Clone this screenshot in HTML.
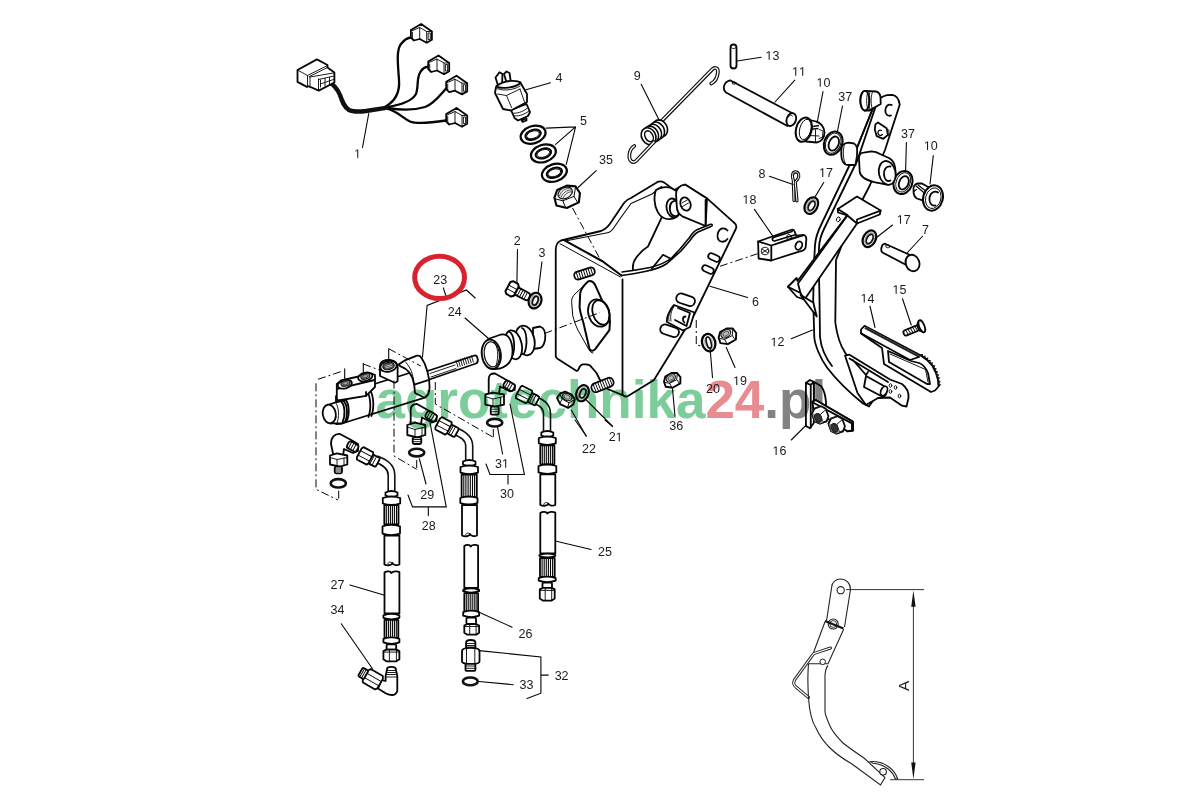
<!DOCTYPE html>
<html><head><meta charset="utf-8">
<style>
html,body{margin:0;padding:0;background:#fff;}
svg{display:block;}
.l{fill:none;stroke:#050505;stroke-width:1.8;stroke-linejoin:round;stroke-linecap:round;}
.w{fill:#fff;stroke:#050505;stroke-width:1.8;stroke-linejoin:round;stroke-linecap:round;}
.t{fill:none;stroke:#050505;stroke-width:1.1;stroke-linecap:round;}
.th{fill:none;stroke:#050505;stroke-width:0.9;stroke-linecap:round;stroke-linejoin:round;}
.d{fill:none;stroke:#050505;stroke-width:1;stroke-dasharray:8 3 2 3;}
#labels text{font-family:"Liberation Sans",sans-serif;font-size:12.5px;fill:#1a1a1a;text-anchor:middle;}
.wm{font-family:"Liberation Sans",sans-serif;font-weight:bold;font-size:53px;text-anchor:start;}
</style></head>
<body>
<svg width="1200" height="800" viewBox="0 0 1200 800">
<rect width="1200" height="800" fill="#fff"/>
<g id="parts">
<path style="stroke-width:2.3" class="l" d="M384.5,107.2 C396,101 400,92 399,80 C398,65 396,50 401,44 C404,40 407,38 410.5,37.5"/>
<path style="stroke-width:2.3" class="l" d="M386,107.2 C402,105 412,101 416,94 C419,86 416,77 421,71 C423,68 426,67 428,66.7"/>
<path style="stroke-width:2.3" class="l" d="M387.5,108 C400,110 415,110 425,107 C434,104 440,95 446.5,88"/>
<path style="stroke-width:2.3" class="l" d="M387.5,108.7 C398,112 403,118 410,121.5 C416,124 430,123 446,120.5"/>
<path fill="none" stroke="#111" stroke-width="4.4" stroke-linecap="round" d="M328,81.5 C333,84 337,88 340,95 C342,101 344,107 349,110 C353,112 360,111.7 366,111 L386,107.8"/>
<path class="w" d="M421.2,24.0 L410.9,30.0 L410.9,37.5 L413.9,40.5 L419.7,39.0 L426.7,42.7 L431.9,39.7 L431.9,31.5 Z"/><path class="th" d="M411.7,31.0 L419.7,27.5 L419.7,39.0"/><path class="th" d="M419.7,27.5 L426.7,31.5 L426.7,42.7"/><path class="th" d="M426.7,31.5 L431.9,31.5"/><rect class="th" x="428.5" y="33.0" width="1.8" height="6.5"/><path class="th" d="M412.4,32.5 L412.4,38.5"/>
<path class="w" d="M438.5,55.5 L428.2,61.5 L428.2,69.0 L431.2,72.0 L437.0,70.5 L444.0,74.2 L449.2,71.2 L449.2,63.0 Z"/><path class="th" d="M429.0,62.5 L437.0,59.0 L437.0,70.5"/><path class="th" d="M437.0,59.0 L444.0,63.0 L444.0,74.2"/><path class="th" d="M444.0,63.0 L449.2,63.0"/><rect class="th" x="445.8" y="64.5" width="1.8" height="6.5"/><path class="th" d="M429.7,64.0 L429.7,70.0"/>
<path class="w" d="M456.5,75.7 L446.2,81.7 L446.2,89.2 L449.2,92.2 L455.0,90.7 L462.0,94.4 L467.2,91.4 L467.2,83.2 Z"/><path class="th" d="M447.0,82.7 L455.0,79.2 L455.0,90.7"/><path class="th" d="M455.0,79.2 L462.0,83.2 L462.0,94.4"/><path class="th" d="M462.0,83.2 L467.2,83.2"/><rect class="th" x="463.8" y="84.7" width="1.8" height="6.5"/><path class="th" d="M447.7,84.2 L447.7,90.2"/>
<path class="w" d="M456.5,108.0 L446.2,114.0 L446.2,121.5 L449.2,124.5 L455.0,123.0 L462.0,126.7 L467.2,123.7 L467.2,115.5 Z"/><path class="th" d="M447.0,115.0 L455.0,111.5 L455.0,123.0"/><path class="th" d="M455.0,111.5 L462.0,115.5 L462.0,126.7"/><path class="th" d="M462.0,115.5 L467.2,115.5"/><rect class="th" x="463.8" y="117.0" width="1.8" height="6.5"/><path class="th" d="M447.7,116.5 L447.7,122.5"/>
<path class="w" d="M297.5,70 L316.9,59.4 L327.5,65 L327.5,67.5 L334.4,72.5 L334.4,82.5 L318.75,90.6 L308.75,86.25 L306.9,86.9 L297.5,81.9 Z"/>
<path class="th" d="M297.5,70 L307.5,75.5 L307.5,86.9 M307.5,75.5 L327.5,65.5 M309.4,76.5 L327.5,67.5 M310,77 L310,87.5 M310,77 L333.5,73 M318.5,79 L318.5,90 M318.5,79.5 L334,76"/>
<path class="th" d="M320.5,80 L320.5,87 M325,78.5 L325,86 M329.5,77.5 L329.5,84.5 M320.5,84 L333.5,79.5"/>
<g id="switch4">
<path class="w" d="M511,110 L514.5,118 L518,120.5 L528,116 L530,112 L526.5,104 Z"/>
<path class="th" d="M512.5,113 C516,114 523,112 527.5,108 M513.5,115.5 C517,117 524,115 529,111"/>
<path class="w" d="M521.5,120 L522.5,121.8 L526.5,120.5 L526.5,118.5 Z"/>
<path class="w" d="M495,93 L503,109 L511,110.5 L527,102 L527,94 L520,82 L504,84 L496,87 Z"/>
<path class="th" d="M496,88 C500,91 513,91 520,86 M497.5,94 L506.5,95.5 L520,89 M506.5,95.5 L511.5,107.5 M520,89 L524.5,102"/>
<path class="w" d="M495.5,77.5 L499.5,72.2 L502.5,74 L502,85 L498,85.5 Z"/>
<path class="w" d="M504,74 L506.5,71.5 L509.5,73 L511,83 L507,84 Z"/>
<path class="w" d="M496.5,86 C500,89.5 515,88 520.5,83 C518,80 505,79.5 496.5,86 Z"/>
</g>
<g id="washers5">
<g transform="translate(533.1,134.7) rotate(-18)"><ellipse style="stroke-width:2.2" class="w" rx="12.8" ry="8.6"/><ellipse style="stroke-width:2" class="l" rx="8" ry="4.8"/><ellipse class="th" rx="6.6" ry="3.6"/></g>
<g transform="translate(543.4,153.4) rotate(-18)"><ellipse style="stroke-width:2.2" class="w" rx="12.8" ry="8.6"/><ellipse style="stroke-width:2" class="l" rx="8" ry="4.8"/><ellipse class="th" rx="6.6" ry="3.6"/></g>
<g transform="translate(554.4,172.8) rotate(-18)"><ellipse style="stroke-width:2.2" class="w" rx="12.8" ry="8.6"/><ellipse style="stroke-width:2" class="l" rx="8" ry="4.8"/><ellipse class="th" rx="6.6" ry="3.6"/></g>
</g>
<g id="nut35">
<path style="stroke-width:2.1" class="w" d="M554.4,197.6 L557.2,190 L566.8,185.6 L575.6,186.4 L580,193.2 L578.8,202.4 L566.8,208 L556.4,205.6 Z"/>
<path style="stroke-width:1" class="th" d="M555.2,198.8 L562.8,200.8 L574,196.4 L575.6,186.8 M562.8,200.8 L565.6,207.6 M574,196.4 L577.6,202.4"/>
<ellipse cx="565.2" cy="193" rx="7.6" ry="5.3" transform="rotate(-28 565.2 193)" fill="#eee" stroke="#111" stroke-width="1.2"/>
<path d="M559.5,196 C561,191 565,188.5 569.5,188.2 M561,197.3 C563,192.5 567,190 571,190 M563,198 C565,194 568.5,191.5 572,191.8" fill="none" stroke="#444" stroke-width="0.9"/>
</g>

<g id="spring9">
<path fill="none" stroke="#111" stroke-width="3.8" stroke-linecap="round" d="M660.8,121.8 L712.3,69.3 C715,66.5 718.5,68 717.8,73 C717.2,78 714.5,82 711.3,83.5"/>
<path fill="none" stroke="#fff" stroke-width="1.4" stroke-linecap="round" d="M660.8,121.8 L712.3,69.3 C715,66.5 718.5,68 717.8,73 C717.2,78 714.5,82 711.3,83.5"/>
<ellipse style="stroke-width:1.6" class="w" cx="660.2" cy="128.3" rx="7" ry="8.8" transform="rotate(-28 660.2 128.3)"/>
<ellipse style="stroke-width:1.6" class="w" cx="657.2" cy="130.5" rx="7" ry="8.8" transform="rotate(-28 657.2 130.5)"/>
<ellipse style="stroke-width:1.6" class="w" cx="654.2" cy="132.7" rx="7" ry="8.8" transform="rotate(-28 654.2 132.7)"/>
<ellipse style="stroke-width:1.6" class="w" cx="651.2" cy="134.6" rx="7" ry="8.8" transform="rotate(-28 651.2 134.6)"/>
<ellipse style="stroke-width:1.6" class="w" cx="648.6" cy="136.2" rx="7" ry="8.8" transform="rotate(-28 648.6 136.2)"/>
<ellipse style="stroke-width:1.5" class="l" cx="649" cy="136.3" rx="3.8" ry="5.8" transform="rotate(-28 649 136.3)"/>
<path fill="none" stroke="#111" stroke-width="3.8" stroke-linecap="round" d="M654,142 L636.5,160.5 C633,164 628.5,161 629.5,154 C630,150 632,147.5 634.3,146"/>
<path fill="none" stroke="#fff" stroke-width="1.4" stroke-linecap="round" d="M654,142 L636.5,160.5 C633,164 628.5,161 629.5,154 C630,150 632,147.5 634.3,146"/>
</g>
<g id="pin13">
<rect class="w" x="730.5" y="44.5" width="6" height="24" rx="3"/>
<path class="th" d="M731,47.5 C732.5,49 735,49 736,47.5"/>
</g>
<g id="pin11">
<path class="w" d="M730,80.3 L792.5,113.3 L787.5,126 L726,92.5 C722.5,90 723,82 730,80.3 Z"/>
<ellipse class="w" cx="791.3" cy="119.6" rx="4.6" ry="6.6" transform="rotate(20 791.3 119.6)"/>
<path class="th" d="M788.5,117 C789,115 791,114.5 792.5,116"/>
<ellipse class="th" cx="734" cy="83" rx="2" ry="1.2"/>
</g>
<g id="bush10a">
<path class="w" d="M806,119 L816,121.5 C820.5,122.5 824.5,127 824.5,132.5 C824.5,138 821,142 816.5,142.5 L806,141.5 Z"/>
<path d="M807,127.5 L819,125.5 M808,129.5 L818.5,128.5" stroke="#111" stroke-width="1.4"/>
<path class="th" d="M809,135.5 L819,136 M815.5,130 L815.5,142 M819.5,129.5 L823,131 L822.5,137 L819,138.5"/>
<ellipse style="stroke-width:2" class="w" cx="803.8" cy="129.7" rx="7.8" ry="12.4" transform="rotate(15 803.8 129.7)"/>
<ellipse class="th" cx="805.3" cy="129.4" rx="5.6" ry="10.4" transform="rotate(15 805.3 129.4)"/>
</g>
<g id="washer37a">
<ellipse style="stroke-width:2" class="w" cx="833.2" cy="143.2" rx="9" ry="12" transform="rotate(22 833.2 143.2)"/>
<ellipse style="stroke-width:1.8" class="l" cx="833.8" cy="143.6" rx="4.8" ry="7.4" transform="rotate(22 833.8 143.6)"/>
<ellipse class="th" cx="833.2" cy="143.2" rx="7.4" ry="10.4" transform="rotate(22 833.2 143.2)"/>
</g>
<g id="washer37b">
<ellipse style="stroke-width:2" class="w" cx="903" cy="182.5" rx="9.3" ry="11.8" transform="rotate(20 903 182.5)"/>
<ellipse style="stroke-width:1.8" class="l" cx="903.8" cy="182.8" rx="4.6" ry="7" transform="rotate(22 903.8 182.8)"/>
<ellipse class="th" cx="903.2" cy="182.4" rx="7" ry="10" transform="rotate(22 903.2 182.4)"/>
</g>
<g id="bush10b">
<path class="w" d="M913.5,190 C913,186.5 915,184 918,183.5 L921.5,183.3 L930,188 L930,202 L924,200.8 L917,198.5 C914.5,197 913.3,194 913.5,190 Z"/>
<path style="stroke-width:1.1" class="th" d="M916,186 L925,193.5 M918,185 L927,192 M913.8,191.5 L916.5,189.5"/>
<ellipse style="stroke-width:2" class="w" cx="933" cy="198" rx="9.8" ry="12.8" transform="rotate(15 933 198)"/>
<ellipse class="th" cx="933.3" cy="198.2" rx="7.6" ry="10.5" transform="rotate(15 933.3 198.2)"/>
<path class="l" d="M938,192.5 C935,190.5 930.5,192 929.5,197.5 C928.8,202.5 931.5,206.5 935.5,205.5"/>
</g>

<g id="pedal12">
<path class="w" d="M873.8,106 L876.7,103.4 C879,98 883,96 887,95.2 L892.5,94.8 C896,95.5 899,99 899.7,104.7 L885,150 L870,185 C860,205 852,218 848,228 L840,250 L836,260 L835.3,322.5 C837,335 840,345 845,352.5 L875,397.5 L869,406.5 L863,403.5 C850,393 835,378 827,367.5 C820,358 815,345 814.3,337.5 L813.2,300 L814.3,258 L815,245 C815.5,238 818,231 821.5,224 L852.5,159 Z"/>
<path class="l" d="M876.7,103.4 L857.3,160.5 L824,229 C821,235 819.2,241 819,248 L818.7,258 L819.5,300 L820,337 C821,347 825,357 832,366"/>
<path class="l" d="M873.8,106 L852.5,159"/>
<path class="l" d="M891.8,105 C888.5,103.5 885.5,106 885.3,110.5 C885.2,114.5 888,116.5 891,115.5"/>
<path class="w" d="M875.4,124.4 L878,122.4 L886.6,128.3 L887.9,134.9 L883.3,138.8 L876.7,136.2 L874.8,129.6 Z"/>
<path class="th" d="M886.6,129 L888.8,130 L889,135 L887.9,135.5"/>
<path style="stroke-width:1.3" class="l" d="M881.5,130.5 C879,129.5 877.5,131.5 878,133.5 C878.5,135.5 881,136 882.5,134.5"/>
</g>
<g id="pin-lever-top">
<path class="w" d="M865,90.8 L876,91.5 C878.5,92 880,94 880.5,97 L880.7,104 L869,110.6 L865,110.6 C861,109 860,103 860.3,99 C860.6,94 862.5,91.5 865,90.8 Z"/>
<ellipse class="w" cx="865" cy="100.7" rx="4.5" ry="9.8"/>
<path class="th" d="M868.3,91.2 C866,95 866,106 868.3,110.3 M870.3,91.3 C868,95 868,106 870.3,110.2 M872.8,91.4 C870.5,95 870.5,106 872.8,110"/>
</g>
<g id="block">
<path class="w" d="M841.3,150 C841.3,145 845,142.7 849,142.7 L854,143.5 C857,144.5 857.5,150 857,156 L855.5,165 L848,165 C843.5,165 841.3,160 841.3,155 Z"/>
<path class="th" d="M845,143.5 C842.5,148 842.5,160 846,164.5"/>
<path class="w" d="M859,158.5 C859,155 861,152.6 863.6,152.6 L871.5,151.3 C875,151.3 878,152.5 880,154 L889.9,158.5 C893,160.5 895.5,165 895.5,172 C895.5,180 892,184.5 887,184.7 L874.1,182.1 C866,180 860,176 859.7,171.6 Z"/>
<ellipse class="w" cx="887.2" cy="172.9" rx="8.3" ry="12" transform="rotate(-12 887.2 172.9)"/>
<path class="l" d="M890.5,166.5 C886,165.5 883.5,170 884,175 C884.5,180 887.5,182 890.5,180.5"/>
</g>
<g id="bar">
<path class="w" d="M837.75,208.9 L857,196.6 L880.6,210.6 L879.75,214.5 L857,223.5 L804.5,299.5 L797,297 L787.9,286.75 L796.6,278 L797.5,281 L847.4,215 Z"/>
<path class="l" d="M837.75,208.9 L838,212.5 L847.4,215.5 L857,223.5 M857,223.5 L857,219.5 L880.6,210.6 M847.4,215.5 L798,283.5 L800.5,293 M787.9,286.75 L800.5,293 L804.5,299.5"/>
<path style="fill:#fff" class="l" d="M800.5,295 L813.25,302.5 L816.75,316.5 Z"/>
<ellipse class="th" cx="838.3" cy="219.4" rx="1.8" ry="2.5" transform="rotate(20 838.3 219.4)"/>
</g>
<g id="pad">
<path class="w" d="M845,355.5 L849.5,354.7 L890,379.5 L902,384 C906,387 909,392 908.5,398 L906.5,406.5 L902,405.7 L890,397.5 L878,398 L866,405 L857.5,393 Z"/>
<path class="l" d="M849.5,358.5 L888,382 M853,360 L866,375 L868,372"/>
<path class="w" d="M866,376 L884,386 C888,389 887,397 882,396.5 L864,387 Z"/>
<ellipse class="w" cx="884" cy="391" rx="3" ry="5" transform="rotate(25 884 391)"/>
<ellipse class="th" cx="890.5" cy="385.5" rx="1.3" ry="1.8"/>
<ellipse class="th" cx="895.5" cy="387.5" rx="1.3" ry="1.8"/>
<ellipse class="th" cx="890.5" cy="391.5" rx="1.3" ry="1.8"/>
<ellipse class="th" cx="899.5" cy="396" rx="1.3" ry="1.8"/>
</g>
<g id="rubber14">
<path class="w" d="M861,329.5 L864.5,325.8 L920,355 L927,360 L932.5,366 L936,373 L938,380 L938.5,386.5 L935,390.5 L931,392 L884,364 L882,348 L861,333.5 Z"/>
<path d="M920.0,355.0 L922.3,354.5 L922.6,356.9 L924.9,356.3 L925.2,358.7 L927.6,358.2 L927.7,360.7 L930.1,360.7 L929.8,363.1 L932.2,363.0 L932.0,365.4 L934.5,365.9 L933.6,368.2 L935.9,368.8 L935.0,371.0 L937.3,371.7 L936.3,374.0 L938.4,375.0 L937.2,377.0 L939.3,378.1 L938.0,380.1 L939.9,381.6 L938.3,383.3 L940.2,384.8 L938.5,386.5" fill="none" stroke="#111" stroke-width="1.2"/>
<path d="M865,327.6 L919.5,356.6" stroke="#222" stroke-width="2.6"/>
<path d="M866,327.2 L919,355.6" stroke="#777" stroke-width="0.8" stroke-dasharray="0.8 0.8"/>
<path class="l" d="M861.5,333.5 L910,360 L919,357"/>
<path class="l" d="M888,351 L911,361 L919,363 C923,364.5 926,368 928,373 L930,384 L927,384 L889,362 Z"/>
<path class="th" d="M890,354 L925.5,369.5 L928,382"/>
</g>
<g id="screw15">
<g transform="rotate(-22 912 330)">
<rect class="w" x="903" y="327.5" width="16" height="5.5" rx="2.2"/>
<path class="th" d="M906,327.5 l1,5.5 M908.5,327.5 l1,5.5 M911,327.5 l1,5.5 M913.5,327.5 l1,5.5 M916,327.5 l1,5.5"/>
<path class="w" d="M918.5,327.3 L922,324 L922,336.5 L918.5,333.2 Z"/>
<ellipse class="w" cx="922.5" cy="330.2" rx="2.6" ry="6.4"/>
</g>
</g>

<g id="bracket6">
<path class="w" d="M555.75,356 L555.75,250 C555.75,245 557,242 561,240.5 L601,231 C605,229.5 608,226.5 610,223.75 L624,203 C626,200 628,199 631,198 L657.5,181.9 C660,180.8 662,181.2 664,182.4 L674,190 L685,184.6 L707,198.4 L733.2,221.8 C736,224 737,226 736,228.5 L694.5,314 L654,380 L628,396 C626,397 624.5,396.5 623.5,395.5 L607,388.75 L599.5,379 L596.5,373 L592,367.75 C591,366 589,364.6 586,364.4 L583,364.4 C582,364.4 581,365 580,366.25 L578.5,369.25 C578.3,370 577.5,371 576.25,370.75 L557.5,358.75 C556.5,358.3 556,357.5 555.75,356 Z"/>
<path style="stroke-width:1.1" class="l" d="M565.2,241 L607.5,232.8 C610,232.3 612,230.5 614,227.5 L619.5,219.5 L631,203.5 L652,194 L661.6,186.5"/>
<path style="stroke-width:1" class="l" d="M560,243.7 L620.5,277"/>
<path style="stroke-width:2.1" class="l" d="M565,240.6 L602.5,261.25 L621.5,275.5"/>
<path style="stroke-width:1.6" class="l" d="M621.5,275.5 C628,274.5 638,273 645,271.5 C655,269.5 662,267 667,263.5 L681,251 L690,240.5 C693,236 695,233.5 698,232 L711,226.5 C713,225.5 712.5,224 710.5,224.2 L697.5,229.5 C694,231 692,233.5 689.5,237.5 L680,249 L672,257.5 C667,262 660,265 650,267.5 C640,269.5 630,271 622,272"/>
<path class="l" d="M622.5,279.5 L622.5,395"/>
<!-- cam arm inside -->
<path class="l" d="M661.6,217.6 L648,246.5 C642,250 638.25,254.8 636,258 C633,262 632.5,266 633,270"/>
<path class="l" d="M652,268.5 L663,254.8 L671.3,259"/>
<!-- tube -->
<path class="w" d="M656,190 C660,187 667,186.5 671,188 L678,192 L679.5,214 C676,219 670,220 665,218.5 C659,216.5 655,209 654.5,200 C654.5,195 655,192 656,190 Z"/>
<ellipse class="w" cx="673" cy="208" rx="6.4" ry="9.6" transform="rotate(-12 673 208)"/>
<path class="l" d="M677.5,201.5 C673,199.5 669.5,203 669.8,209 C670,214 673,217 677,216"/>
<!-- lug -->
<path class="w" d="M676,194 C676,189 680,185 685,184.6 L707,198.4 L705.6,226 L682.3,216.3 C678.5,214 676.8,210 676.8,206.6 Z"/>
<ellipse class="w" cx="685.5" cy="204" rx="5" ry="6.8" transform="rotate(-20 685.5 204)"/>
<path class="th" d="M682,203 L688,199.5 M682.5,206.5 L688.5,203"/>
<path class="l" d="M705.6,199.8 L705.6,225.9"/>
<!-- C hole -->
<path class="l" d="M727.5,230.5 C725,227.5 720.5,227.5 718.5,231.5 C716.5,235.5 717.5,240.5 721,241.5 C723.5,242.2 726,241 727.5,239"/>
<!-- slots -->
<g transform="rotate(25 714 257.5)"><rect class="w" x="708" y="254.5" width="12" height="6" rx="3"/></g>
<g transform="rotate(25 708 269.5)"><rect class="w" x="702" y="266.5" width="12" height="6" rx="3"/></g>
<g transform="rotate(18 685.5 300)"><rect class="w" x="676" y="295" width="19" height="9.5" rx="4.5"/></g>
<g transform="rotate(18 669.5 331)"><rect class="w" x="660" y="326" width="19" height="9.5" rx="4.5"/></g>
<!-- clip tab -->
<path class="w" d="M674,305 L694.5,312.5 L690,327 L683,330.5 L667,322 C666,318 670,309 674,305 Z"/>
<path class="l" d="M678,308 L690,313 L686.5,326 L675,320"/>
<path class="l" d="M685.5,316.5 C682.5,316.5 682,321 684.5,322.5"/>
<path class="th" d="M672,309 C669,313 668,317 669,321 M674,306.5 C671,311 670,316 671,321"/>
<!-- pad plate -->
<path style="stroke-width:1" class="l" d="M588.1,281.4 L573.8,295.2 C571.8,298 571.5,300 571.7,302.6 L572.7,315.3 C574,321 576,326 578,330.2 L588.7,349.3 C590,351.5 591.5,353 592.9,353"/>
<path style="stroke-width:2" class="w" d="M588.1,281.4 C590.5,280.5 593,281.5 595,284.6 L607.8,313.2 C609.5,317 610.2,320 609.9,323 L609.4,330.2 L595,349.3 C593,351.5 590.5,351 589.5,349 L583.4,322.8 C581,315 579.6,310 579.6,306.8 L580.2,293 C581,289 584,285 588.1,281.4 Z"/>
<ellipse class="w" cx="598.7" cy="313" rx="10.3" ry="14" transform="rotate(-18 598.7 313)"/>
<ellipse class="l" cx="601" cy="312.5" rx="8.3" ry="12.6" transform="rotate(-18 601 312.5)"/>
<!-- stud top -->
<g transform="rotate(-18 584.5 273.5)"><rect class="w" x="574" y="269.5" width="21" height="8" rx="3.5"/>
<path class="th" d="M577,269.5 v8 M579.5,269.5 v8 M582,269.5 v8 M584.5,269.5 v8 M587,269.5 v8 M589.5,269.5 v8 M592,269.5 v8"/></g>
<!-- stud bottom -->
<g transform="rotate(-22 602.5 385)"><rect class="w" x="591" y="380.5" width="23" height="9" rx="4"/>
<path class="th" d="M594,380.5 v9 M596.5,380.5 v9 M599,380.5 v9 M601.5,380.5 v9 M604,380.5 v9 M606.5,380.5 v9 M609,380.5 v9 M611.5,380.5 v9"/></g>
</g>

<g id="bolt2">
<g transform="translate(1.4,2.5) rotate(28 517 290)">
<rect class="w" x="512" y="285.5" width="17" height="8" rx="3"/>
<path class="th" d="M515,285.5 v8 M517.5,285.5 v8 M520,285.5 v8 M522.5,285.5 v8 M525,285.5 v8"/>
<path style="stroke-width:2" class="w" d="M505,284.5 L507,282.5 L512.5,282.5 L514.5,284.5 L514.5,295 L512.5,297 L507,297 L505,295 Z"/>
<path class="th" d="M505,288 L514.5,288 M505,292 L514.5,292"/>
</g>
</g>
<g id="washer3">
<ellipse style="stroke-width:2.2" class="w" cx="535" cy="300.6" rx="6.3" ry="8.0" transform="rotate(20 535 300.6)"/>
<ellipse cx="535" cy="300.6" rx="4.7" ry="6.4" transform="rotate(20 535 300.6)" fill="#a8a8a8" stroke="none"/>
<ellipse cx="535.3" cy="300.8" rx="2.5" ry="4.5" transform="rotate(20 535.3 300.8)" fill="#fff" stroke="#111" stroke-width="1.7"/>
</g>
<g id="boot24">
<path class="w" d="M533,328 L540,326.5 C545,328 546,333 545,340 C544,345 542,347.5 540,348 L533,349 Z"/>
<ellipse class="w" cx="525" cy="340.5" rx="9.5" ry="15" transform="rotate(-12 525 340.5)"/>
<path class="l" d="M522,328 C527,330 528,345 524,354"/>
<ellipse class="w" cx="513.5" cy="344.8" rx="8.2" ry="14.7" transform="rotate(-12 513.5 344.8)"/>
<path class="l" d="M509.5,332 C514,334 516,348 512,357"/>
<path class="w" d="M488,339 L501,334.5 C508,333 512,340 512.5,350 C513,360 508,366 500,368.5 L494,369 Z"/>
<ellipse class="w" cx="491.3" cy="354.3" rx="9.5" ry="14.8" transform="rotate(-8 491.3 354.3)"/>
<ellipse style="stroke-width:1.2" class="l" cx="491.8" cy="354.3" rx="7.6" ry="12.6" transform="rotate(-8 491.8 354.3)"/>
<path class="th" d="M494,342 C498,346 499,356 496,366"/>
</g>
<g id="mc23">
<path class="w" d="M426,371.5 L474.5,355.5 C478,355 479,362.5 476,363.5 L428,380 Z"/>
<path class="th" d="M456,360.5 l2,6.5 M458.2,359.8 l2,6.5 M460.4,359.1 l2,6.5 M462.6,358.4 l2,6.5 M464.8,357.7 l2,6.5 M467,357 l2,6.5 M469.2,356.3 l2,6.5 M471.4,355.6 l2,6.5"/>
<path class="th" d="M430,373.5 L455,365 M431,377 L456,368.5"/>
<path class="w" d="M336,396 L400,376 L425,368 L429,385 L428.2,394.2 C427,396.5 426,397.3 424.7,397.7 L342,423.5 L336,424 Z"/>
<path class="l" d="M365.5,390 C370,392.5 372,406.5 368.5,417 M368.5,389 C373,391.5 375,405.5 371.5,416"/>
<path class="w" d="M336.8,384 L341,380.5 L371.5,373.5 L375,375 L375,387 L366,395.8 L338.1,400.5 L336.8,398.7 Z"/>
<path class="l" d="M337.5,388.8 L374.5,380 M366,395.8 L366,392"/>
<path class="w" d="M380,366.2 C380,361 385,359.5 390,360 C395,361 397.6,363.5 397.6,367 L397.6,381 C396,383 394,383 393.2,382 L380,376 Z"/>
<ellipse class="w" cx="388.5" cy="366.3" rx="8.3" ry="5.4" transform="rotate(-12 388.5 366.3)"/>
<ellipse cx="388.5" cy="366" rx="5.8" ry="3.6" transform="rotate(-12 388.5 366)" fill="#555" stroke="#111" stroke-width="1.2"/>
<path d="M385,366.5 L392,364.5 M385.5,368 L392.5,366" stroke="#ddd" stroke-width="0.7"/>
<path class="w" d="M398.5,364.5 L405.5,360.1 L416.9,355.7 C419,355.5 420.5,356.2 421.2,357.5 L424.7,363.6 L427.4,371.5 L429.1,379.4 L429.6,388.1 L428.2,394.2 L424.7,397.7 L415,393 L414.2,384.6 C413,376 408,369 400.2,366.2 Z"/>
<path class="l" d="M414.2,384.6 L428.2,380.2"/>
<path class="th" d="M405.5,361.9 C409,366 411.5,370 412.5,375 L414.2,384.6"/>
<path class="w" d="M329,404.7 L336.7,402 L346,400 C349,404 350,415 346.5,421.5 L342,423.3 L330,423.3 Z"/>
<ellipse class="w" cx="329.3" cy="414" rx="6.5" ry="9.4" transform="rotate(-10 329.3 414)"/>
<path class="th" d="M336,403 C339,408 339.5,417 337,423"/>
<path class="l" d="M344,401.5 C347.5,405 348,416 345,422 M341.5,402 C345,405.5 345.5,416 342.5,422.5"/>
<ellipse class="w" cx="344.8" cy="384.3" rx="7.3" ry="4.1" transform="rotate(-15 344.8 384.3)"/>
<ellipse cx="345.5" cy="383.3" rx="4.6" ry="2.8" transform="rotate(-15 345.5 383.3)" fill="#999" stroke="#111" stroke-width="1.1"/><path d="M342.8,383.6 L344,381.9 L347,381.3 L348.3,382.8 L347,384.6 L344,385.2 Z" fill="none" stroke="#222" stroke-width="0.8"/>
<ellipse class="w" cx="365.3" cy="376.9" rx="7.3" ry="4.1" transform="rotate(-15 365.3 376.9)"/>
<ellipse cx="365.3" cy="376.3" rx="4.6" ry="2.8" transform="rotate(-15 365.3 376.3)" fill="#999" stroke="#111" stroke-width="1.1"/><path d="M362.6,376.6 L363.8,374.9 L366.8,374.3 L368.1,375.8 L366.8,377.6 L363.8,378.2 Z" fill="none" stroke="#222" stroke-width="0.8"/>
</g>
<g id="dash23">
<path class="d" d="M318,379.3 L342,371.3 M316,383.3 L316,489.3 L338,500 M338.7,490.7 L338.7,500"/>
<path class="d" d="M363.3,364 L379.3,370 M388.7,348.7 L420.7,366 M394,380.7 L394,456 L416.7,469.3 M416.7,460 L416.7,469.3"/>
<path class="d" d="M435.3,382 L435.3,404 L493.3,437.3 M493.3,429 L493.3,437.3"/>
<path class="t" d="M344.7,368.7 L344.7,379.3 M363.3,363.3 L363.3,374 M388.7,348.7 L388.7,363.3"/>
</g>
<g id="fitA">
<path class="w" d="M331,444 C331,437 335,433.5 340,434 L353,441 L358,444 L358,451 L353,453 L344,449 L343,456 L333.5,456 Z"/>
<g transform="rotate(28 353 447)"><rect class="w" x="347" y="443" width="11" height="7.5" rx="2.5"/><path class="th" d="M349.5,443 v7.5 M352,443 v7.5 M354.5,443 v7.5"/></g>
<path class="w" d="M330,455.5 L337,453.3 L347.3,455.5 L347.3,464.5 L340,466.7 L330,464.5 Z"/>
<path class="th" d="M330,457.5 L337,459.5 L347.3,457.5 M337,459.5 L337,466.7 M344,458 L344,465.5"/>
<rect class="w" x="334.7" y="466.7" width="7.3" height="6.6" rx="1.5"/>
<path class="th" d="M334.7,469 h7.3 M334.7,471 h7.3"/>
<ellipse cx="338.3" cy="483.3" rx="7.6" ry="4.2" fill="none" stroke="#111" stroke-width="2.6"/>
</g>
<g id="fitB">
<path class="w" d="M410.7,410 C410.7,406 413,404 417,404 L433,413 L436.5,416 L436.5,421 L432,422.5 L422,417.5 L421,424 L410.7,424 Z"/>
<g transform="rotate(30 431 416.5)"><rect class="w" x="425.5" y="412.5" width="11" height="7.5" rx="2.5"/><path class="th" d="M428,412.5 v7.5 M430.5,412.5 v7.5 M433,412.5 v7.5"/></g>
<path class="w" d="M407.3,425 L415,422.7 L425.3,425 L425.3,435 L417,437.3 L407.3,435 Z"/>
<path class="th" d="M407.3,427 L415,429.5 L425.3,427 M415,429.5 L415,437.3 M422,428 L422,436"/>
<rect class="w" x="412.7" y="437.3" width="8.6" height="6.7" rx="1.5"/>
<path class="th" d="M412.7,439.5 h8.6 M412.7,441.7 h8.6"/>
<ellipse cx="416.7" cy="452.6" rx="7.6" ry="3.8" fill="none" stroke="#111" stroke-width="2.6"/>
</g>
<g id="fitC">
<path class="w" d="M488.7,379 C488.7,375 491,373.3 495,373.5 L510,382 L514.7,385 L514.7,390 L510,391.5 L500,386.5 L499,394 L488.7,394 Z"/>
<g transform="rotate(30 509 386)"><rect class="w" x="503.5" y="382" width="11" height="7.5" rx="2.5"/><path class="th" d="M506,382 v7.5 M508.5,382 v7.5 M511,382 v7.5"/></g>
<path class="w" d="M485.3,394.5 L493,392.7 L504,394.5 L504,404.7 L495,406.7 L485.3,404.7 Z"/>
<path class="th" d="M485.3,396.5 L493,399 L504,396.5 M493,399 L493,406.7 M500.5,397.5 L500.5,405.5"/>
<rect class="w" x="490.7" y="406.7" width="8" height="8" rx="1.5"/>
<path class="th" d="M490.7,409.2 h8 M490.7,411.7 h8"/>
<ellipse cx="494.7" cy="422.7" rx="7.6" ry="3.8" fill="none" stroke="#111" stroke-width="2.6"/>
</g>

<g id="hose27">
<path fill="none" stroke="#111" stroke-width="8.2" stroke-linejoin="round" d="M376,459 C384,462 391.5,466 391.5,475 L391.5,492"/>
<path fill="none" stroke="#fff" stroke-width="5" stroke-linejoin="round" d="M376,459 C384,462 391.5,466 391.5,475 L391.5,493"/>
<g transform="translate(0,2) rotate(28 369 456)"><rect class="w" x="370" y="451" width="9" height="10" rx="1.5"/><path class="th" d="M372.5,451 v10 M375,451 v10"/><path style="stroke-width:1.8" class="w" d="M359,449 L370,449 L371,451 L371,461 L370,463 L359,463 L358,461 L358,451 Z"/><path class="th" d="M358,453.5 H371 M358,458.5 H371"/></g>
<path style="stroke-width:1.8" class="w" d="M385.5,492.5 Q391.5,489.5 397.5,492.5 L397.5,495.5 Q391.5,498.5 385.5,495.5 Z"/>
<path style="stroke-width:1.8" class="w" d="M382.8,498.0 Q391.5,495.0 400.2,498.0 L400.2,503.5 Q391.5,506.5 382.8,503.5 Z"/>
<rect class="w" x="384.3" y="505.0" width="14.2" height="19.5" rx="0.5"/><path style="stroke-width:1.1" class="th" d="M386.3,505.0 V524.5 M388.4,505.0 V524.5 M390.4,505.0 V524.5 M392.4,505.0 V524.5 M394.4,505.0 V524.5 M396.5,505.0 V524.5 "/>
<path style="stroke-width:1.8" class="w" d="M382.5,526.4 Q391.2,523.4 400.0,526.4 L400.0,533.6 Q391.2,536.6 382.5,533.6 Z"/>
<path class="w" d="M384.4,535.6 L399.4,535.6 L399.4,564.5 C397.4,565.5 393.4,565.5 392.4,563.0 C391.4,566.0 386.4,565.5 384.4,564.5 Z"/><path class="th" d="M387.9,564.0 C387.9,561.5 391.4,561.5 392.4,563.0"/>
<path class="w" d="M384.5,572.5 C386.5,571.0 390.4,571.0 391.4,573.0 C392.4,571.0 397.4,571.0 399.4,572.0 L399.4,613.4 L384.5,613.4 Z"/>
<path style="stroke-width:1.8" class="w" d="M383.4,615.4 Q391.4,612.4 399.4,615.4 L399.4,617.8 Q391.4,620.8 383.4,617.8 Z"/>
<rect class="w" x="384.5" y="619.8" width="13.8" height="18.1" rx="0.5"/><path style="stroke-width:1.1" class="th" d="M386.5,619.8 V637.9 M388.4,619.8 V637.9 M390.4,619.8 V637.9 M392.4,619.8 V637.9 M394.4,619.8 V637.9 M396.3,619.8 V637.9 "/>
<path style="stroke-width:1.8" class="w" d="M383.4,638.8 Q391.4,635.8 399.4,638.8 L399.4,642.3 Q391.4,645.3 383.4,642.3 Z"/>
<rect class="w" x="386.6" y="644.3" width="9.6" height="5.3" rx="1.2"/>
<path style="stroke-width:1.8" class="w" d="M383.4,651.1 L386.4,649.6 L396.4,649.6 L399.4,651.1 L399.4,659.3 L396.4,661.3 L386.4,661.3 L383.4,659.3 Z"/><path class="th" d="M389.4,650.1 V661.3 M396.4,650.1 V661.3 M383.9,652.1 L398.9,652.1"/>
</g>
<g id="hose26">
<path fill="none" stroke="#111" stroke-width="8.6" stroke-linejoin="round" d="M455,431 C462,434 469.2,437.5 469.2,446 L469.2,462"/>
<path fill="none" stroke="#fff" stroke-width="5.4" stroke-linejoin="round" d="M455,431 C462,434 469.2,437.5 469.2,446 L469.2,463"/>
<g transform="translate(1.5,2) rotate(28 446 426)"><rect class="w" x="447.5" y="421" width="9" height="10" rx="1.5"/><path class="th" d="M450,421 v10 M452.5,421 v10"/><path style="stroke-width:1.8" class="w" d="M436,419 L447,419 L448,421 L448,431 L447,433 L436,433 L435,431 L435,421 Z"/><path class="th" d="M435,423.5 H448 M435,428.5 H448"/></g>
<path style="stroke-width:1.8" class="w" d="M463.0,461.5 Q469.2,458.5 475.5,461.5 L475.5,464.5 Q469.2,467.5 463.0,464.5 Z"/>
<path style="stroke-width:1.8" class="w" d="M460.5,467.0 Q469.2,464.0 478.0,467.0 L478.0,472.6 Q469.2,475.6 460.5,472.6 Z"/>
<rect class="w" x="461.6" y="474.6" width="15.2" height="22.7" rx="0.5"/><path style="stroke-width:1.1" class="th" d="M463.8,474.6 V497.3 M465.9,474.6 V497.3 M468.1,474.6 V497.3 M470.3,474.6 V497.3 M472.5,474.6 V497.3 M474.6,474.6 V497.3 "/>
<path style="stroke-width:1.8" class="w" d="M460.3,498.0 Q468.9,495.0 477.5,498.0 L477.5,503.0 Q468.9,506.0 460.3,503.0 Z"/>
<path class="w" d="M462.0,505.0 L477.0,505.0 L477.0,535.5 C475.0,536.5 471.0,536.5 470.0,534.0 C469.0,537.0 464.0,536.5 462.0,535.5 Z"/><path class="th" d="M465.5,535.0 C465.5,532.5 469.0,532.5 470.0,534.0"/>
<path class="w" d="M464.3,546.0 C466.3,544.5 469.7,544.5 470.7,546.5 C471.7,544.5 476.1,544.5 478.1,545.5 L478.1,588.0 L464.3,588.0 Z"/>
<path style="stroke-width:1.8" class="w" d="M463.2,589.9 Q471.1,586.9 479.1,589.9 L479.1,591.2 Q471.1,594.2 463.2,591.2 Z"/>
<rect class="w" x="464.3" y="593.2" width="13.8" height="18.1" rx="0.5"/><path style="stroke-width:1.1" class="th" d="M466.3,593.2 V611.3 M468.2,593.2 V611.3 M470.2,593.2 V611.3 M472.2,593.2 V611.3 M474.2,593.2 V611.3 M476.1,593.2 V611.3 "/>
<path style="stroke-width:1.8" class="w" d="M463.2,612.2 Q471.1,609.2 479.1,612.2 L479.1,615.7 Q471.1,618.7 463.2,615.7 Z"/>
<rect class="w" x="466.4" y="617.7" width="9.6" height="6.3" rx="1.2"/>
<path style="stroke-width:1.8" class="w" d="M464.3,625.5 L467.3,624.0 L476.1,624.0 L479.1,625.5 L479.1,632.7 L476.1,634.7 L467.3,634.7 L464.3,632.7 Z"/><path class="th" d="M469.7,624.5 V634.7 M476.1,624.5 V634.7 M464.8,626.5 L478.6,626.5"/>
</g>
<g id="hose25">
<path fill="none" stroke="#111" stroke-width="8.6" stroke-linejoin="round" d="M535,400 C541,402.5 547,405.5 547,414 L547,433"/>
<path fill="none" stroke="#fff" stroke-width="5.4" stroke-linejoin="round" d="M535,400 C541,402.5 547,405.5 547,414 L547,434"/>
<g transform="translate(4,2.5) rotate(27 524 394)"><rect class="w" x="525.5" y="389" width="9" height="10" rx="1.5"/><path class="th" d="M528,389 v10 M530.5,389 v10"/><path style="stroke-width:1.8" class="w" d="M514,387 L525,387 L526,389 L526,399 L525,401 L514,401 L513,399 L513,389 Z"/><path class="th" d="M513,391.5 H526 M513,396.5 H526"/></g>
<path style="stroke-width:1.8" class="w" d="M541.3,432.5 Q547.3,429.5 553.3,432.5 L553.3,435.5 Q547.3,438.5 541.3,435.5 Z"/>
<path style="stroke-width:1.8" class="w" d="M538.8,438.0 Q547.3,435.0 555.8,438.0 L555.8,443.3 Q547.3,446.3 538.8,443.3 Z"/>
<rect class="w" x="540.3" y="445.3" width="14.1" height="19.2" rx="0.5"/><path style="stroke-width:1.1" class="th" d="M542.3,445.3 V464.5 M544.3,445.3 V464.5 M546.3,445.3 V464.5 M548.4,445.3 V464.5 M550.4,445.3 V464.5 M552.4,445.3 V464.5 "/>
<path style="stroke-width:1.8" class="w" d="M538.5,466.0 Q547.4,463.0 556.3,466.0 L556.3,472.4 Q547.4,475.4 538.5,472.4 Z"/>
<path class="w" d="M540.3,474.4 L555.3,474.4 L555.3,505.0 C553.3,506.0 549.3,506.0 548.3,503.5 C547.3,506.5 542.3,506.0 540.3,505.0 Z"/><path class="th" d="M543.8,504.5 C543.8,502.0 547.3,502.0 548.3,503.5"/>
<path class="w" d="M540.3,513.0 C542.3,511.5 546.3,511.5 547.3,513.5 C548.3,511.5 553.3,511.5 555.3,512.5 L555.3,553.5 L540.3,553.5 Z"/>
<path style="stroke-width:1.8" class="w" d="M539.4,555.2 Q547.3,552.2 555.3,555.2 L555.3,556.0 Q547.3,559.0 539.4,556.0 Z"/>
<rect class="w" x="540.0" y="558.0" width="14.7" height="19.0" rx="0.5"/><path style="stroke-width:1.1" class="th" d="M542.1,558.0 V577.0 M544.2,558.0 V577.0 M546.3,558.0 V577.0 M548.4,558.0 V577.0 M550.5,558.0 V577.0 M552.6,558.0 V577.0 "/>
<path style="stroke-width:1.8" class="w" d="M538.7,578.2 Q547.2,575.2 555.7,578.2 L555.7,580.6 Q547.2,583.6 538.7,580.6 Z"/>
<rect class="w" x="542.5" y="582.6" width="9.5" height="5.4" rx="1.2"/>
<path style="stroke-width:1.8" class="w" d="M539.8,589.4 L542.8,587.9 L551.7,587.9 L554.7,589.4 L554.7,598.6 L551.7,600.6 L542.8,600.6 L539.8,598.6 Z"/><path class="th" d="M545.2,588.4 V600.6 M551.7,588.4 V600.6 M540.3,590.4 L554.2,590.4"/>
</g>
<g id="cotter8">
<path fill="none" stroke="#111" stroke-width="3.2" stroke-linecap="round" stroke-linejoin="round" d="M794,200.5 L793.3,180 C791.5,176 792.5,172 795.5,171.8 C798.5,171.8 800,175.5 797.5,179.5 L795.2,182 L797,201"/>
<path fill="none" stroke="#fff" stroke-width="1" stroke-linecap="round" stroke-linejoin="round" d="M794,200.5 L793.3,180 C791.5,176 792.5,172 795.5,171.8 C798.5,171.8 800,175.5 797.5,179.5 L795.2,182 L797,201"/>
</g>
<g id="washer17a">
<ellipse style="stroke-width:2.2" class="w" cx="811.3" cy="205.6" rx="6.2" ry="8.8" transform="rotate(28 811.3 205.6)"/>
<ellipse cx="811.3" cy="205.6" rx="4.6" ry="7.2" transform="rotate(28 811.3 205.6)" fill="#a8a8a8" stroke="none"/>
<ellipse cx="811.6" cy="205.8" rx="2.8" ry="5.0" transform="rotate(28 811.6 205.8)" fill="#fff" stroke="#111" stroke-width="1.7"/>
</g>
<g id="clevis18">
<path class="w" d="M758.1,241.5 L790.6,230 C792.5,229.5 794,230 794.4,231 L796.3,235.6 L803.8,235 C805.5,235.5 806.5,237.5 806.3,240 L805.6,247.5 C805,249.5 803,251 800,251.3 L771.3,260.5 L758.6,258.5 Z"/>
<path class="l" d="M758.1,241.5 L771.3,245.5 L771.3,260.5 M771.3,245.5 L803.8,235.2 M771.3,245.5 L796,237"/>
<path class="l" d="M773,240.5 C771.5,238.5 772.5,237.5 775,236.8 L792,231.5 M774.5,241 L794.5,235"/>
<ellipse class="w" cx="798.8" cy="245.6" rx="3.2" ry="4.3" transform="rotate(25 798.8 245.6)"/>
<ellipse class="th" cx="789" cy="237" rx="2.3" ry="2.5"/>
<circle class="th" cx="765" cy="251" r="3.8"/>
<path class="th" d="M762,249 L768,253 M762,253 L768,249"/>
</g>
<g id="washer17b">
<ellipse style="stroke-width:2.2" class="w" cx="869.4" cy="238.8" rx="6.2" ry="8.8" transform="rotate(28 869.4 238.8)"/>
<ellipse cx="869.4" cy="238.8" rx="4.6" ry="7.2" transform="rotate(28 869.4 238.8)" fill="#a8a8a8" stroke="none"/>
<ellipse cx="869.7" cy="239.0" rx="2.8" ry="5.0" transform="rotate(28 869.7 239.0)" fill="#fff" stroke="#111" stroke-width="1.7"/>
</g>
<g id="pin7">
<path class="w" d="M885,243.7 L910,255 L906.3,265 L882.5,252.5 C880,250.5 881.5,244 885,243.7 Z"/>
<ellipse class="th" cx="887.6" cy="246.3" rx="2" ry="1.4" transform="rotate(25 887.6 246.3)"/>
<ellipse class="w" cx="912.5" cy="263" rx="6.8" ry="8.4" transform="rotate(-20 912.5 263)"/>
<path class="th" d="M908,256 C905,260 905.5,266 908.5,270"/>
</g>
<g id="washer20">
<ellipse style="stroke-width:2.3" class="w" cx="708.7" cy="342.6" rx="6.6" ry="8.8" transform="rotate(-15 708.7 342.6)"/>
<ellipse cx="708.7" cy="342.6" rx="4.6" ry="6.8" transform="rotate(-15 708.7 342.6)" fill="#bbb" stroke="none"/>
<ellipse cx="708.8" cy="342.7" rx="2.2" ry="5.8" transform="rotate(-15 708.8 342.7)" fill="#fff" stroke="#111" stroke-width="1.6"/>
</g>
<g id="nut19" transform="rotate(-5 727.5 336.3)"><path style="stroke-width:1.9" class="w" d="M718.5,336.9 L720.5,331.5 L727.2,328.5 L733.4,329.0 L736.5,333.8 L735.6,340.2 L727.2,344.1 L719.9,342.5 Z"/><path class="th" d="M719.1,337.7 L724.4,339.1 L732.3,336.0 L733.4,329.3 M724.4,339.1 L726.4,343.9 M732.3,336.0 L734.8,340.2"/><ellipse cx="726.1" cy="333.6" rx="5.3" ry="3.7" transform="rotate(-28 726.1 333.6)" fill="#bbb" stroke="#111" stroke-width="1.1"/><ellipse cx="726.1" cy="333.6" rx="3.2" ry="2.1" transform="rotate(-28 726.1 333.6)" fill="none" stroke="#444" stroke-width="0.8"/></g>
<g id="nut36" transform="rotate(-5 672.3 380.4)"><path style="stroke-width:1.9" class="w" d="M663.9,380.9 L665.7,375.9 L672.0,373.0 L677.8,373.5 L680.7,378.0 L680.0,384.1 L672.0,387.8 L665.2,386.2 Z"/><path class="th" d="M664.4,381.7 L669.4,383.0 L676.8,380.1 L677.8,373.8 M669.4,383.0 L671.2,387.5 M676.8,380.1 L679.2,384.1"/><ellipse cx="671.0" cy="377.9" rx="5.0" ry="3.5" transform="rotate(-28 671.0 377.9)" fill="#bbb" stroke="#111" stroke-width="1.1"/><ellipse cx="671.0" cy="377.9" rx="3.0" ry="2.0" transform="rotate(-28 671.0 377.9)" fill="none" stroke="#444" stroke-width="0.8"/></g>
<g id="washer21">
<ellipse style="stroke-width:2.2" class="w" cx="582.5" cy="393.2" rx="6.0" ry="8.3" transform="rotate(22 582.5 393.2)"/>
<ellipse cx="582.5" cy="393.2" rx="4.4" ry="6.7" transform="rotate(22 582.5 393.2)" fill="#a8a8a8" stroke="none"/>
<ellipse cx="582.8" cy="393.4" rx="2.7" ry="4.7" transform="rotate(22 582.8 393.4)" fill="#fff" stroke="#111" stroke-width="1.7"/>
</g>
<g id="nut22" transform="rotate(50 566 399.6)"><path style="stroke-width:1.9" class="w" d="M557.6,400.1 L559.4,395.1 L565.7,392.2 L571.5,392.7 L574.4,397.2 L573.7,403.3 L565.7,407.0 L558.9,405.4 Z"/><path class="th" d="M558.1,400.9 L563.1,402.2 L570.5,399.3 L571.5,393.0 M563.1,402.2 L564.9,406.7 M570.5,399.3 L572.9,403.3"/><ellipse cx="564.7" cy="397.1" rx="5.0" ry="3.5" transform="rotate(-28 564.7 397.1)" fill="#bbb" stroke="#111" stroke-width="1.1"/><ellipse cx="564.7" cy="397.1" rx="3.0" ry="2.0" transform="rotate(-28 564.7 397.1)" fill="none" stroke="#444" stroke-width="0.8"/></g>
<g id="fit34">
<path class="w" d="M385.6,676 L387.3,668 C389,666.5 393.5,666.5 395.5,668 L397.3,676 L397.3,690.7 C396.5,693.5 394.5,695 392,695 C389,695 387,694 386,693.5 L378,688.5 L381.5,680 L385.6,681 Z"/>
<path class="th" d="M387.3,670.5 H395.5 M387.3,672.5 H395.5 M387.3,674.5 H395.5 M386,677 H397"/>
<g transform="rotate(30 373 679)">
<path style="stroke-width:1.8" class="w" d="M366,671.5 L380,671.5 L381.5,674 L381.5,685 L380,687 L366,687 L364.5,685 L364.5,674 Z"/>
<path class="th" d="M364.5,677 H381.5 M364.5,682 H381.5"/>
<rect class="w" x="358.5" y="674" width="6.5" height="10" rx="1.5"/>
<path class="th" d="M360.5,674 v10 M362.5,674 v10"/>
</g>
</g>
<g id="adapter32">
<path class="w" d="M466.1,642.5 C466.1,640.5 468,640 470.7,640 C473.5,640 475.4,640.5 475.4,642.5 L475.4,648.5 L466.1,648.5 Z"/>
<path class="th" d="M466.1,643.5 H475.4 M466.1,645.5 H475.4 M466.1,647 H475.4"/>
<path style="stroke-width:1.8" class="w" d="M462,651 C462,649 466,647.8 470.7,647.8 C475.5,647.8 479.5,649 479.5,651 L479.5,661.5 C479.5,663 475.5,664 470.7,664 C466,664 462,663 462,661.5 Z"/>
<path class="th" d="M466.5,649 L466.5,663.5 M474.8,649 L474.8,663.5"/>
<rect class="w" x="465.5" y="663.8" width="9.9" height="7" rx="1"/>
<path class="th" d="M465.5,666 H475.4 M465.5,668.3 H475.4"/>
</g>
<ellipse cx="470.3" cy="681.4" rx="7.4" ry="3.9" fill="none" stroke="#111" stroke-width="2.6"/>
<g id="diagramA" stroke="#222">
<path fill="none" stroke="#222" stroke-width="1.1" d="M831.7,587 C832,582 836,579 840.7,579 C846,579 850.5,583 850.5,589.5 L844.5,627 M831.7,587 L826.5,621"/>
<circle cx="840.7" cy="590.2" r="3.6" fill="none" stroke="#222" stroke-width="1.1"/>
<path fill="none" stroke="#222" stroke-width="1.1" d="M825,621.7 L813,654 L811.5,656.5 M843.7,629.2 L828,663.7 L808.5,663.7"/>
<circle cx="833.2" cy="624" r="5" fill="#fff" stroke="#222" stroke-width="1.1"/>
<circle cx="833.2" cy="624" r="3.4" fill="none" stroke="#222" stroke-width="0.9"/>
<path stroke="#111" stroke-width="2" d="M825,621 L843.5,628.5"/>
<circle cx="822.7" cy="661.8" r="2.8" fill="#fff" stroke="#222" stroke-width="1"/>
<path fill="none" stroke="#222" stroke-width="3" stroke-linejoin="round" stroke-linecap="round" d="M830.5,648 L813.7,653.6 L811.5,656.5 L794.5,680 C793,683 794,685.5 796,687 L808.5,697.5"/>
<path fill="none" stroke="#fff" stroke-width="1.2" stroke-linejoin="round" stroke-linecap="round" d="M830.5,648 L813.7,653.6 L811.5,656.5 L794.5,680 C793,683 794,685.5 796,687 L808.5,697.5"/>
<path fill="none" stroke="#222" stroke-width="1.1" d="M808.5,663.7 C807.5,675 808,690 808.5,698 C809.5,712 812,722 816,728 C820,737 825,743 829.5,747.5 C836,754 845,760 852,764 L880.5,785 L885,777.5 L864,758 C855,752 848,747 843,743 C837,737 832,731 829.5,725 C826.5,718 825,713 825,711.5 L825,675 C825.5,670 826.5,667 828,665.5"/>
<path fill="none" stroke="#222" stroke-width="1.1" d="M870,761.7 C876,761 884,763 889,767 C893,770 896,774 897.7,779 L895.4,779 C894,775 891.5,771.5 887.5,768.5 C883,765.5 877,763.5 873,763.3 Z"/>
<circle cx="883.1" cy="771.8" r="3.3" fill="#fff" stroke="#222" stroke-width="1.1"/>
<path fill="none" stroke="#333" stroke-width="1" d="M846,589.6 L924,589.6 M890.2,779.7 L924,779.7 M913.4,600 L913.4,770"/>
<path fill="#111" stroke="none" d="M913.4,590.5 L915.6,606.7 L911.2,606.7 Z M913.4,779 L915.6,762.5 L911.2,762.5 Z"/>
<text x="909.2" y="685.8" transform="rotate(-90 909.2 685.8)" stroke="none" style="font-family:'Liberation Sans',sans-serif;font-size:15.5px;fill:#222;text-anchor:middle;">A</text>
</g>

<g id="part16base">
<path class="w" d="M813.8,382 C818,384 821.25,386.2 821.25,386.2 C824,390 825.5,396 826,402 L826,406 L813.8,404 Z"/>
<path class="w" d="M805.9,383 L809.9,380 L813.8,381.8 L813.8,423 L809.9,428.2 L805.9,426 Z"/>
<path class="l" d="M805.9,383 L810.75,384.9 L813.8,382 M810.75,384.9 L810.75,427.5"/>
<path class="w" d="M812.5,401.5 L816,400.2 L852.75,421.6 L853.2,430.4 L847.5,431.25 L813.4,409.4 Z"/>
<path class="l" d="M813.4,402.8 L851.9,423.4 L851.9,431"/>
<g transform="rotate(-20 820.2 415)"><path d="M813,411 L817,407 L824,407 L827.5,411 L827.5,419 L824,423 L817,423 L813,419 Z" fill="#fff" stroke="#111" stroke-width="1.8"/>
<path d="M813.5,412 L820.5,414.5 L827,412 M820.5,414.5 L820.5,422.5" fill="none" stroke="#111" stroke-width="0.9"/>
<path d="M813.2,411.5 L820.5,414.5 L820.5,422.8 L817,423 L813,419 Z" fill="#999"/><ellipse cx="817.2" cy="417" rx="3.2" ry="4.6" fill="#333" stroke="#111" stroke-width="0.8"/></g>
<g transform="rotate(-20 836.6 425)"><path d="M829.5,421 L833.5,417 L840.5,417 L844,421 L844,429 L840.5,433 L833.5,433 L829.5,429 Z" fill="#fff" stroke="#111" stroke-width="1.8"/>
<path d="M830,422 L837,424.5 L843.5,422 M837,424.5 L837,432.5" fill="none" stroke="#111" stroke-width="0.9"/>
<path d="M829.7,421.5 L837,424.5 L837,432.8 L833.5,433 L829.5,429 Z" fill="#999"/><ellipse cx="833.7" cy="427" rx="3.2" ry="4.6" fill="#333" stroke="#111" stroke-width="0.8"/></g>
</g>


</g>
<g id="wm" style="mix-blend-mode:multiply">
<text class="wm" x="375.5" y="418" fill="rgb(125,205,155)">agrotechnika<tspan fill="rgb(232,140,145)">24</tspan><tspan fill="rgb(130,130,130)">.pl</tspan></text>
</g>
<g id="part16">
<path class="w" d="M812.5,401.5 L816,400.2 L852.75,421.6 L853.2,430.4 L847.5,431.25 L813.4,409.4 Z"/>
<path class="l" d="M813.4,402.8 L851.9,423.4 L851.9,431"/>
<g transform="rotate(-20 820.2 415)"><path d="M813,411 L817,407 L824,407 L827.5,411 L827.5,419 L824,423 L817,423 L813,419 Z" fill="#fff" stroke="#111" stroke-width="1.8"/>
<path d="M813.5,412 L820.5,414.5 L827,412 M820.5,414.5 L820.5,422.5" fill="none" stroke="#111" stroke-width="0.9"/>
<path d="M813.2,411.5 L820.5,414.5 L820.5,422.8 L817,423 L813,419 Z" fill="#999"/><ellipse cx="817.2" cy="417" rx="3.2" ry="4.6" fill="#333" stroke="#111" stroke-width="0.8"/></g>
<g transform="rotate(-20 836.6 425)"><path d="M829.5,421 L833.5,417 L840.5,417 L844,421 L844,429 L840.5,433 L833.5,433 L829.5,429 Z" fill="#fff" stroke="#111" stroke-width="1.8"/>
<path d="M830,422 L837,424.5 L843.5,422 M837,424.5 L837,432.5" fill="none" stroke="#111" stroke-width="0.9"/>
<path d="M829.7,421.5 L837,424.5 L837,432.8 L833.5,433 L829.5,429 Z" fill="#999"/><ellipse cx="833.7" cy="427" rx="3.2" ry="4.6" fill="#333" stroke="#111" stroke-width="0.8"/></g>
</g>
<g id="leaders">
<path class="t" d="M362.5,147.5 L368.75,113.5"/>
<path class="t" d="M550.5,82.8 L526,89.8"/>
<path class="t" d="M575.6,126.9 L546.25,128.1 M575.6,126.9 L555.6,144.4 M575.6,126.9 L566.25,164.4"/>
<path class="t" d="M578.1,187.5 L596.25,170.6"/>
<path class="t" d="M641.2,84.2 L659.2,120.2"/>
<path class="t" d="M737.2,61 L761.2,57.2"/>
<path class="t" d="M794.8,80.2 L775,102"/>
<path class="t" d="M823,91.5 L817.5,121"/>
<path class="t" d="M842.5,106 L837.5,131"/>
<path class="t" d="M906.4,142.6 L905.6,171"/>
<path class="t" d="M933.3,155.6 L930,184"/>
<path class="t" d="M443.3,287.9 L445.8,295.5 M422.5,357 L427.1,305.4 L466.5,290 L475.2,298"/>
<path class="t" d="M465,318 L488.5,338.5"/>
<path class="t" d="M517.5,249.4 L516.9,283.1 M541.9,261.9 L538.1,293.1"/>
<path class="t" d="M769.4,176.25 L793.1,184.4 M823.75,182.5 L815,196.9 M754.4,209.4 L772.5,235.6"/>
<path class="t" d="M892.5,225 L875,238.75 M922.5,236.25 L907.5,252.5"/>
<path class="t" d="M747.5,297.5 L710,286.25 M902.5,298.75 L911.25,325 M870,306.25 L875,327.5 M791.25,338.75 L812.5,330"/>
<path class="t" d="M710,347.5 L712.5,377.5 M726.25,347.5 L735,367.5 M672.5,388.75 L675,416.25"/>
<path class="t" d="M586.25,400 L612.5,426.25 M571.25,410 L586.25,436.25"/>
<path class="t" d="M791.25,440 L806.25,425"/>
<path class="t" d="M350,585 L383.75,595 M341.25,623.75 L372.5,668.75"/>
<path class="t" d="M479.1,612.3 L512.1,627.2 M479.1,681.5 L513.2,684.7"/>
<path class="t" d="M479.1,650.6 L540.9,657 L540.9,693.2 L527,698.5 M540.9,675.1 L548.3,675.1"/>
<path class="t" d="M555.3,541 L591,549.5"/>
<path class="t" d="M426,484 L419.3,458.7"/>
<path class="t" d="M408,495 L412.5,506.9 L446.25,506.9 L430,422.7 M428.3,506.9 L428.3,515.6"/>
<path class="t" d="M486,464 L490,474.5 L524.4,474.5 L510,404 M508,474.5 L508,484"/>
<path class="t" d="M575,420 L586.3,436 M605,420 L612.6,426.6"/>
<path class="d" d="M572.5,208 L601.25,261.25"/>
<path class="d" d="M544.5,333.5 L600,312.5"/>
<path class="d" d="M720,266.25 L757.5,253.75"/>
<path class="d" d="M696.25,320 L696.25,345 L702.5,346.25"/>

<path class="t" d="M502.6,454 L497.5,427"/>

</g>
<g id="labels" opacity="0.999">
<path d="M0.252,0 L0.338,0 L0.338,-0.688 L0.258,-0.688 L0.096,-0.575 L0.096,-0.492 L0.252,-0.598 Z" transform="translate(354.02,158.0) scale(12.5)" fill="#1a1a1a"/>
<text x="555.52" y="81.5" style="text-anchor:start">4</text>
<text x="580.02" y="124.5" style="text-anchor:start">5</text>
<text x="633.82" y="79.7" style="text-anchor:start">9</text>
<path d="M0.252,0 L0.338,0 L0.338,-0.688 L0.258,-0.688 L0.096,-0.575 L0.096,-0.492 L0.252,-0.598 Z" transform="translate(765.45,59.8) scale(12.5)" fill="#1a1a1a"/>
<text x="772.40" y="59.8" style="text-anchor:start">3</text>
<path d="M0.252,0 L0.338,0 L0.338,-0.688 L0.258,-0.688 L0.096,-0.575 L0.096,-0.492 L0.252,-0.598 Z" transform="translate(792.05,75.8) scale(12.5)" fill="#1a1a1a"/>
<path d="M0.252,0 L0.338,0 L0.338,-0.688 L0.258,-0.688 L0.096,-0.575 L0.096,-0.492 L0.252,-0.598 Z" transform="translate(799.00,75.8) scale(12.5)" fill="#1a1a1a"/>
<path d="M0.252,0 L0.338,0 L0.338,-0.688 L0.258,-0.688 L0.096,-0.575 L0.096,-0.492 L0.252,-0.598 Z" transform="translate(816.55,86.8) scale(12.5)" fill="#1a1a1a"/>
<text x="823.50" y="86.8" style="text-anchor:start">0</text>
<text x="838.35" y="100.5" style="text-anchor:start">3</text>
<text x="845.30" y="100.5" style="text-anchor:start">7</text>
<text x="901.05" y="137.7" style="text-anchor:start">3</text>
<text x="908.00" y="137.7" style="text-anchor:start">7</text>
<path d="M0.252,0 L0.338,0 L0.338,-0.688 L0.258,-0.688 L0.096,-0.575 L0.096,-0.492 L0.252,-0.598 Z" transform="translate(923.85,150.0) scale(12.5)" fill="#1a1a1a"/>
<text x="930.80" y="150.0" style="text-anchor:start">0</text>
<text x="599.05" y="164.4" style="text-anchor:start">3</text>
<text x="606.00" y="164.4" style="text-anchor:start">5</text>
<text x="433.25" y="283.9" style="text-anchor:start">2</text>
<text x="440.20" y="283.9" style="text-anchor:start">3</text>
<text x="447.75" y="316.0" style="text-anchor:start">2</text>
<text x="454.70" y="316.0" style="text-anchor:start">4</text>
<text x="513.73" y="245.0" style="text-anchor:start">2</text>
<text x="538.42" y="256.9" style="text-anchor:start">3</text>
<text x="758.42" y="177.5" style="text-anchor:start">8</text>
<path d="M0.252,0 L0.338,0 L0.338,-0.688 L0.258,-0.688 L0.096,-0.575 L0.096,-0.492 L0.252,-0.598 Z" transform="translate(819.05,176.9) scale(12.5)" fill="#1a1a1a"/>
<text x="826.00" y="176.9" style="text-anchor:start">7</text>
<path d="M0.252,0 L0.338,0 L0.338,-0.688 L0.258,-0.688 L0.096,-0.575 L0.096,-0.492 L0.252,-0.598 Z" transform="translate(742.45,203.75) scale(12.5)" fill="#1a1a1a"/>
<text x="749.40" y="203.75" style="text-anchor:start">8</text>
<path d="M0.252,0 L0.338,0 L0.338,-0.688 L0.258,-0.688 L0.096,-0.575 L0.096,-0.492 L0.252,-0.598 Z" transform="translate(896.80,223.75) scale(12.5)" fill="#1a1a1a"/>
<text x="903.75" y="223.75" style="text-anchor:start">7</text>
<text x="922.12" y="233.75" style="text-anchor:start">7</text>
<text x="752.12" y="306.25" style="text-anchor:start">6</text>
<path d="M0.252,0 L0.338,0 L0.338,-0.688 L0.258,-0.688 L0.096,-0.575 L0.096,-0.492 L0.252,-0.598 Z" transform="translate(892.45,293.75) scale(12.5)" fill="#1a1a1a"/>
<text x="899.40" y="293.75" style="text-anchor:start">5</text>
<path d="M0.252,0 L0.338,0 L0.338,-0.688 L0.258,-0.688 L0.096,-0.575 L0.096,-0.492 L0.252,-0.598 Z" transform="translate(860.55,302.5) scale(12.5)" fill="#1a1a1a"/>
<text x="867.50" y="302.5" style="text-anchor:start">4</text>
<path d="M0.252,0 L0.338,0 L0.338,-0.688 L0.258,-0.688 L0.096,-0.575 L0.096,-0.492 L0.252,-0.598 Z" transform="translate(770.55,346.25) scale(12.5)" fill="#1a1a1a"/>
<text x="777.50" y="346.25" style="text-anchor:start">2</text>
<text x="706.05" y="393.2" style="text-anchor:start">2</text>
<text x="713.00" y="393.2" style="text-anchor:start">0</text>
<path d="M0.252,0 L0.338,0 L0.338,-0.688 L0.258,-0.688 L0.096,-0.575 L0.096,-0.492 L0.252,-0.598 Z" transform="translate(733.05,385.0) scale(12.5)" fill="#1a1a1a"/>
<text x="740.00" y="385.0" style="text-anchor:start">9</text>
<text x="669.35" y="430.0" style="text-anchor:start">3</text>
<text x="676.30" y="430.0" style="text-anchor:start">6</text>
<text x="608.65" y="441.25" style="text-anchor:start">2</text>
<path d="M0.252,0 L0.338,0 L0.338,-0.688 L0.258,-0.688 L0.096,-0.575 L0.096,-0.492 L0.252,-0.598 Z" transform="translate(615.60,441.25) scale(12.5)" fill="#1a1a1a"/>
<text x="581.95" y="452.6" style="text-anchor:start">2</text>
<text x="588.90" y="452.6" style="text-anchor:start">2</text>
<path d="M0.252,0 L0.338,0 L0.338,-0.688 L0.258,-0.688 L0.096,-0.575 L0.096,-0.492 L0.252,-0.598 Z" transform="translate(772.45,455.0) scale(12.5)" fill="#1a1a1a"/>
<text x="779.40" y="455.0" style="text-anchor:start">6</text>
<text x="495.05" y="467.8" style="text-anchor:start">3</text>
<path d="M0.252,0 L0.338,0 L0.338,-0.688 L0.258,-0.688 L0.096,-0.575 L0.096,-0.492 L0.252,-0.598 Z" transform="translate(502.00,467.8) scale(12.5)" fill="#1a1a1a"/>
<text x="500.05" y="497.9" style="text-anchor:start">3</text>
<text x="507.00" y="497.9" style="text-anchor:start">0</text>
<text x="420.35" y="498.7" style="text-anchor:start">2</text>
<text x="427.30" y="498.7" style="text-anchor:start">9</text>
<text x="421.75" y="530.0" style="text-anchor:start">2</text>
<text x="428.70" y="530.0" style="text-anchor:start">8</text>
<text x="598.05" y="556.0" style="text-anchor:start">2</text>
<text x="605.00" y="556.0" style="text-anchor:start">5</text>
<text x="330.55" y="588.75" style="text-anchor:start">2</text>
<text x="337.50" y="588.75" style="text-anchor:start">7</text>
<text x="330.55" y="613.75" style="text-anchor:start">3</text>
<text x="337.50" y="613.75" style="text-anchor:start">4</text>
<text x="518.45" y="637.9" style="text-anchor:start">2</text>
<text x="525.40" y="637.9" style="text-anchor:start">6</text>
<text x="554.65" y="680.4" style="text-anchor:start">3</text>
<text x="561.60" y="680.4" style="text-anchor:start">2</text>
<text x="519.55" y="689.0" style="text-anchor:start">3</text>
<text x="526.50" y="689.0" style="text-anchor:start">3</text>
</g>
<ellipse cx="439.6" cy="277.4" rx="24.9" ry="21.2" fill="none" stroke="#d8232e" stroke-width="5"/>
</svg>
</body></html>
